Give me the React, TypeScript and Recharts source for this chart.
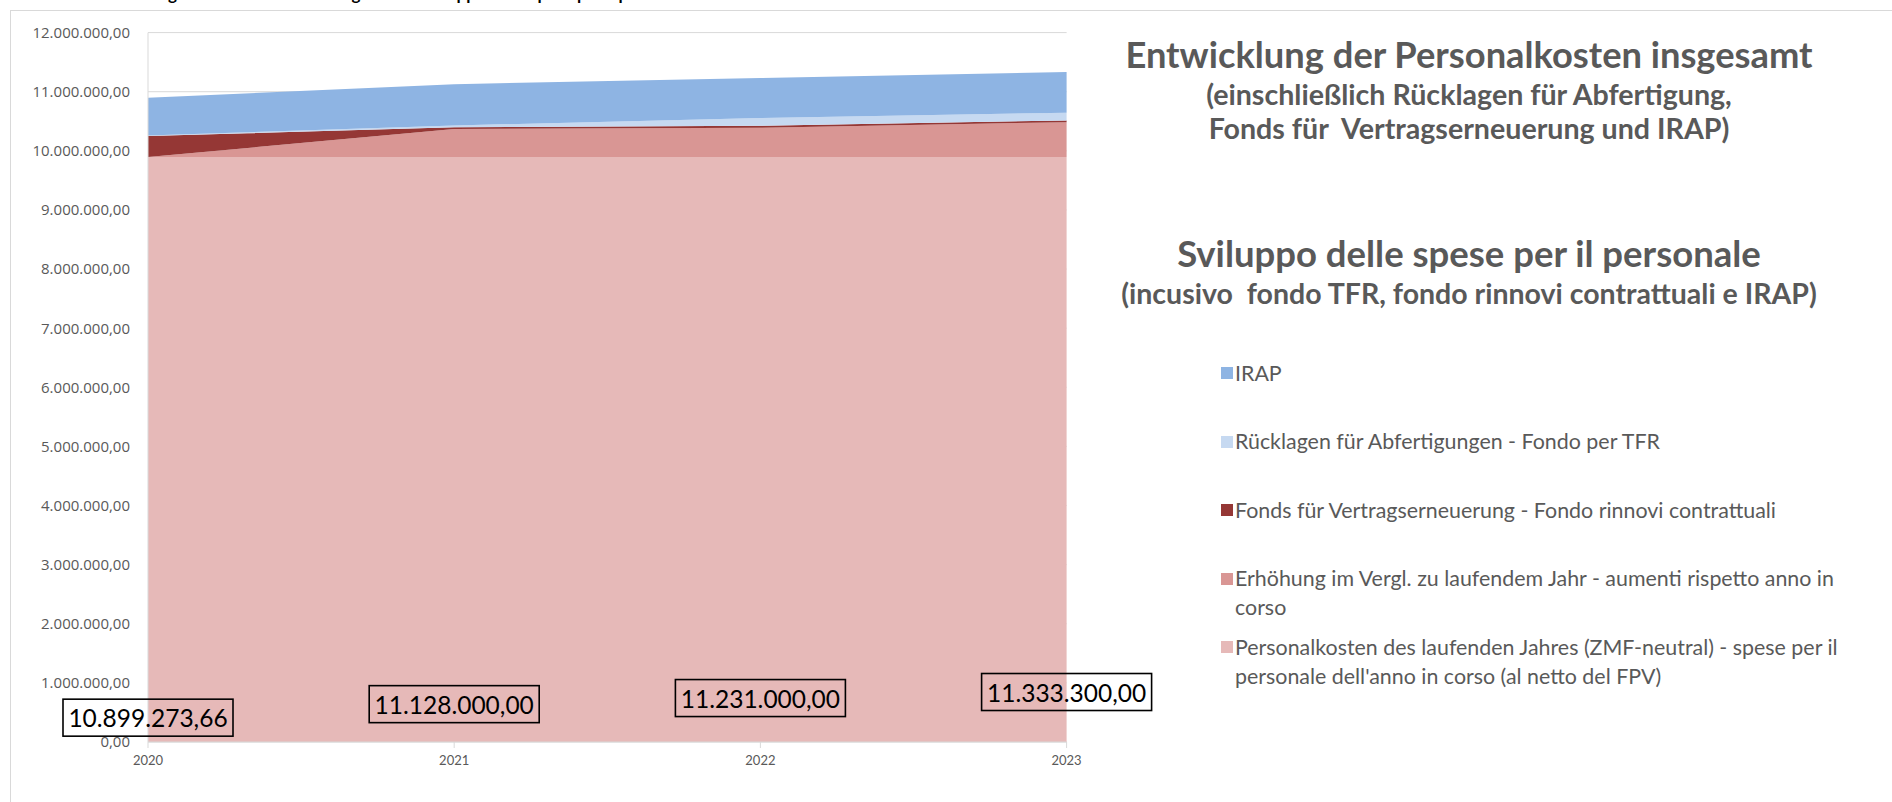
import React from 'react';
import { AreaChart, Area, XAxis, YAxis, CartesianGrid, LabelList } from 'recharts';

// ---- data ----
const years = ['2020', '2021', '2022', '2023'];
const personalkosten = [9895000, 9895000, 9895000, 9895000];
const erhoehung = [0, 474000, 495000, 590000];
const fondsVertrag = [355000, 30000, 35000, 30000];
const tfr = [10000, 30000, 130000, 130000];
const irap = [639274, 699000, 676000, 688300];
const totals = [10899273.66, 11128000, 11231000, 11333300];
const yTicks = [0, 1000000, 2000000, 3000000, 4000000, 5000000, 6000000, 7000000, 8000000, 9000000, 10000000, 11000000, 12000000];

const seriesKeys = ['pers', 'erh', 'fonds', 'tfr', 'irap'];
const seriesNames = [
  "Personalkosten des laufenden Jahres (ZMF-neutral) - spese per il\npersonale dell'anno in corso (al netto del FPV)",
  'Erhöhung im Vergl. zu laufendem Jahr - aumenti rispetto anno in\ncorso',
  'Fonds für Vertragserneuerung - Fondo rinnovi contrattuali',
  'Rücklagen für Abfertigungen - Fondo per TFR',
  'IRAP',
];
const seriesColors = ['#E6B9B8', '#D99694', '#953735', '#C6D9F1', '#8EB4E3'];

const titleLines = [
  'Entwicklung der Personalkosten insgesamt',
  '(einschließlich Rücklagen für Abfertigung,',
  'Fonds für  Vertragserneuerung und IRAP)',
  'Sviluppo delle spese per il personale',
  '(incusivo  fondo TFR, fondo rinnovi contrattuali e IRAP)',
];
const cutTitle = 'Entwicklung der Personalkosten insgesamt - Sviluppo delle spese per il personale';

const data = years.map((y, i) => ({
  year: y,
  pers: personalkosten[i],
  erh: erhoehung[i],
  fonds: fondsVertrag[i],
  tfr: tfr[i],
  irap: irap[i],
  total: totals[i],
}));

function fmtDE(v: number): string {
  const fixed = Number(v).toFixed(2);
  const [intPart, dec] = fixed.split('.');
  return intPart.replace(/\B(?=(\d{3})+(?!\d))/g, '.') + ',' + dec;
}

const GRAY = '#595959';
const LINE = '#d9d9d9';
const NARROW = "Lato, 'Open Sans', sans-serif";

const DataBox = (props: any) => {
  const { x, y, value } = props;
  if (x == null || y == null) return null;
  const w = 170;
  const h = 37;
  const cy = y + 620;
  return (
    <g>
      <rect x={x - w / 2} y={cy - h / 2} width={w} height={h} fill="none" stroke="#000" strokeWidth={1.6} />
      <text x={x} y={cy} textAnchor="middle" dominantBaseline="central" fontFamily={NARROW} fontSize={24.5} fill="#000">
        {fmtDE(value)}
      </text>
    </g>
  );
};

const LegendBox = () => {
  const order = [4, 3, 2, 1, 0];
  return (
    <div
      style={{
        position: 'absolute', left: 1221, top: 358.5, width: 660,
        fontFamily: NARROW, fontSize: 21.4, color: GRAY,
      }}
    >
      {order.map((i) => (
        <div key={seriesKeys[i]} style={{ position: 'relative', height: 68.5 }}>
          <div style={{ position: 'absolute', left: 0, top: 8.5, width: 12, height: 12, background: seriesColors[i] }} />
          <div style={{ position: 'absolute', left: 14, top: 0, lineHeight: '29px', whiteSpace: 'pre' }}>
            {seriesNames[i]}
          </div>
        </div>
      ))}
    </div>
  );
};

const titleCenters = [54, 94, 128, 253, 293];
const titleSizes = [36.3, 28.6, 28.6, 36.5, 28.5];

export default function App() {
  return (
    <div style={{ position: 'relative', width: 1892, height: 802, background: '#fff', overflow: 'hidden' }}>
      <style>{'html,body{margin:0;padding:0;background:#fff;overflow:hidden}'}</style>
      <div
        style={{
          position: 'absolute', left: 10, top: 10, width: 1890, height: 800,
          borderLeft: `1px solid ${LINE}`, borderTop: `1px solid ${LINE}`,
        }}
      />
      <div
        style={{
          position: 'absolute', left: 84, top: -16, whiteSpace: 'nowrap',
          fontFamily: NARROW, fontWeight: 700, fontSize: 17, lineHeight: '20px', color: '#000',
        }}
      >
        {cutTitle}
      </div>
      <AreaChart
        width={1892}
        height={802}
        data={data}
        margin={{ top: 32.6, right: 825.4, bottom: 0, left: 0 }}
        style={{ position: 'absolute', left: 0, top: 0 }}
      >
        <CartesianGrid horizontal vertical={false} stroke={LINE} />
        <XAxis
          dataKey="year"
          height={60}
          interval={0}
          tickSize={6}
          tickMargin={8}
          axisLine={{ stroke: LINE }}
          tickLine={{ stroke: LINE }}
          tick={{ fill: GRAY, fontSize: 13, fontFamily: NARROW }}
        />
        <YAxis
          domain={[0, 12000000]}
          ticks={yTicks}
          interval={0}
          tickFormatter={fmtDE}
          width={148}
          tickSize={0}
          tickMargin={18}
          tickLine={false}
          axisLine={{ stroke: LINE }}
          tick={{ fill: GRAY, fontSize: 15, fontFamily: "'Open Sans', sans-serif" }}
        />
        <YAxis
          yAxisId="right"
          orientation="right"
          domain={[0, 12000000]}
          width={0}
          tick={false}
          tickLine={false}
          axisLine={{ stroke: LINE }}
        />
        {seriesKeys.map((k, i) => (
          <Area
            key={k}
            dataKey={k}
            name={seriesNames[i]}
            stackId="stack"
            type="linear"
            stroke="none"
            fill={seriesColors[i]}
            fillOpacity={1}
            dot={false}
            activeDot={false}
            isAnimationActive={false}
          >
            {k === 'irap' ? <LabelList dataKey="total" content={<DataBox />} /> : null}
          </Area>
        ))}
      </AreaChart>
      <LegendBox />
      {titleLines.map((t, i) => (
        <div
          key={i}
          style={{
            position: 'absolute', left: 1069, width: 800, textAlign: 'center',
            top: titleCenters[i] - 20, height: 40, lineHeight: '40px',
            fontFamily: NARROW, fontWeight: 700, fontSize: titleSizes[i], color: GRAY, whiteSpace: 'pre',
          }}
        >
          {t}
        </div>
      ))}
    </div>
  );
}
